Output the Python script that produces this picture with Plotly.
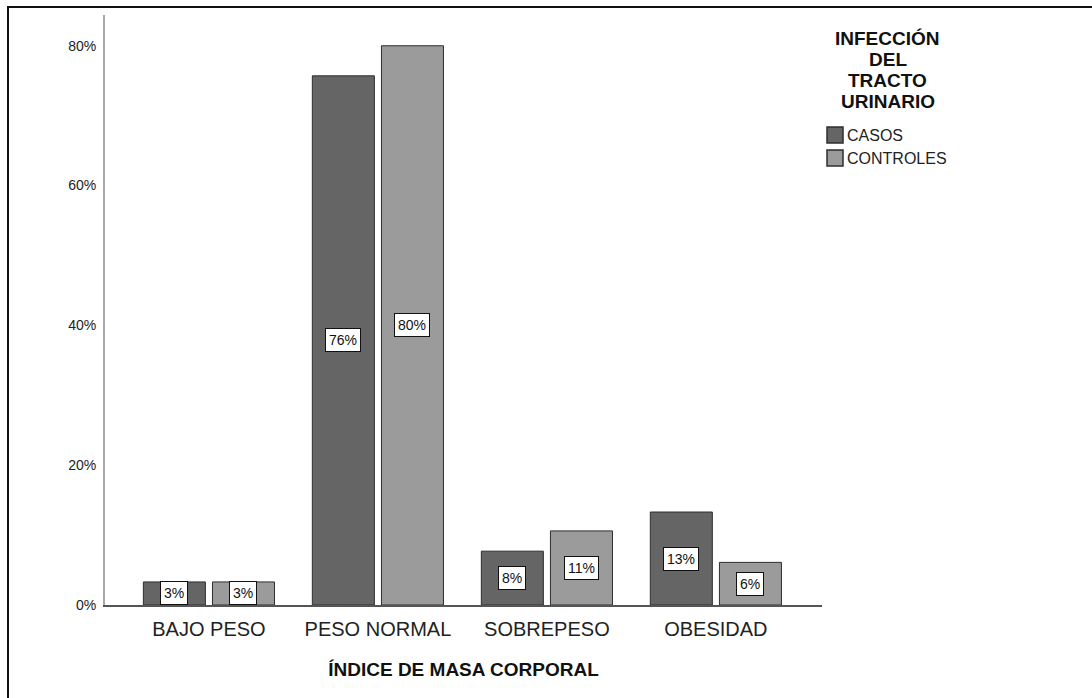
import plotly.graph_objects as go

# ---- data ----
categories = ["BAJO PESO", "PESO NORMAL", "SOBREPESO", "OBESIDAD"]
casos = [3.3, 75.7, 7.7, 13.3]
controles = [3.3, 80.0, 10.6, 6.1]
series_names = ["CASOS", "CONTROLES"]
y_ticks = [0, 20, 40, 60, 80]
y_tick_labels = ["0%", "20%", "40%", "60%", "80%"]
legend_title_lines = ["INFECCIÓN", "DEL", "TRACTO", "URINARIO"]
x_title = "ÍNDICE DE MASA CORPORAL"

# ---- style ----
FONT = "Liberation Sans, Arial, sans-serif"
C_DARK = "#656565"
C_LIGHT = "#9b9b9b"
EDGE = "#2e2e2e"
W, H = 1092, 698
ML, MR, MT, MB = 105, 270, 15, 93
PW, PH = W - ML - MR, H - MT - MB

BAR_W = 0.367
OFF_A = -0.388
OFF_B = 0.021


def PX(px):
    return (px - ML) / PW


def PY(py):
    return (H - MB - py) / PH


def pct(v):
    return f"{int(v + 0.5)}%"


fig = go.Figure()
idx = list(range(len(categories)))
for name, vals, col, off in [(series_names[0], casos, C_DARK, OFF_A),
                             (series_names[1], controles, C_LIGHT, OFF_B)]:
    fig.add_trace(go.Bar(
        x=idx, y=vals, name=name, width=BAR_W, offset=off,
        marker=dict(color=col, line=dict(color=EDGE, width=1)),
        showlegend=False, hoverinfo="y",
    ))
    for i, v in zip(idx, vals):
        fig.add_annotation(
            x=i + off + BAR_W / 2, y=v / 2, xref="x", yref="y",
            text=pct(v), showarrow=False,
            font=dict(family=FONT, size=14, color="#111"),
            bgcolor="white", bordercolor="#111", borderwidth=1, borderpad=3,
        )

# legend title (manual, centered lines)
for k, line in enumerate(legend_title_lines):
    fig.add_annotation(
        x=PX(888), y=PY(38 + 21.3 * k), xref="paper", yref="paper",
        text=f"<b>{line}</b>", showarrow=False, xanchor="center", yanchor="middle",
        font=dict(family=FONT, size=19, color="#111"),
    )

# legend items
for k, (name, col) in enumerate(zip(series_names, [C_DARK, C_LIGHT])):
    top = 127 + 23 * k
    fig.add_shape(type="rect", xref="paper", yref="paper",
                  x0=PX(827), x1=PX(843), y0=PY(top + 16), y1=PY(top),
                  fillcolor=col, line=dict(color=EDGE, width=1.5))
    fig.add_annotation(
        x=PX(845), y=PY(top + 8.5), xref="paper", yref="paper",
        text=name, showarrow=False, xanchor="left", yanchor="middle",
        font=dict(family=FONT, size=16, color="#222"),
    )

# outer frame
fig.add_shape(type="rect", xref="paper", yref="paper",
              x0=PX(8), x1=PX(1110), y0=PY(720), y1=PY(7),
              line=dict(color="#111", width=2), fillcolor="rgba(0,0,0,0)", layer="above")

fig.update_layout(
    width=W, height=H,
    margin=dict(l=ML, r=MR, t=MT, b=MB, pad=0),
    paper_bgcolor="white", plot_bgcolor="white",
    barmode="group",
    showlegend=False,
    font=dict(family=FONT, color="#222"),
    xaxis=dict(
        range=[-0.615, 3.628], tickmode="array", tickvals=idx, ticktext=categories,
        showgrid=False, zeroline=False, showline=True, linecolor="#555", linewidth=1.5,
        ticks="", tickfont=dict(family=FONT, size=20, color="#222"),
        ticklabelstandoff=5,
        title=dict(text=f"<b>{x_title}</b>", font=dict(family=FONT, size=19, color="#111"),
                   standoff=24),
        fixedrange=True,
    ),
    yaxis=dict(
        range=[0, 84.4], tickmode="array", tickvals=y_ticks, ticktext=y_tick_labels,
        showgrid=False, zeroline=False, showline=True, linecolor="#a8a8a8", linewidth=2,
        ticks="", tickfont=dict(family=FONT, size=14, color="#222"),
        ticklabelstandoff=4,
        fixedrange=True,
    ),
)

fig.write_html("out.html")
